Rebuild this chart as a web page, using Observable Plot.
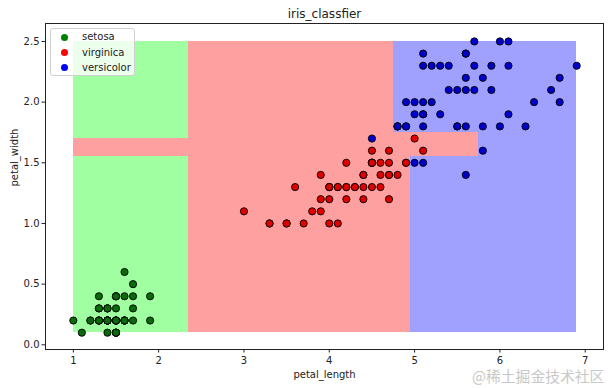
<!DOCTYPE html>
<html><head><meta charset="utf-8">
<script src="https://cdn.jsdelivr.net/npm/d3@7"></script>
<script src="https://cdn.jsdelivr.net/npm/@observablehq/plot@0.6"></script>
<style>
body{margin:0;background:#fff;}
#wrap{position:relative;width:613px;height:388px;font-family:"DejaVu Sans",sans-serif;color:#222;overflow:hidden}
#title{height:20px;text-align:center;font-size:12px;line-height:12px;padding-top:8px;box-sizing:border-box;padding-left:36px}
#legend{position:absolute;left:50px;top:28px;width:85px;height:48px;box-sizing:border-box;background:rgba(255,255,255,0.8);border:1px solid #d0d0d0;border-radius:3px;font-size:10px}
.li{position:absolute;left:0;height:14px;line-height:14px}
.li span.d{position:absolute;left:10px;top:3.5px;width:7px;height:7px;border-radius:50%}
.li span.t{position:absolute;left:31px;white-space:nowrap}
#wm{position:absolute;left:472px;top:365px;font-family:"Noto Sans CJK SC",sans-serif;font-size:14.8px;color:#c8c8c8;white-space:nowrap}
</style></head>
<body><div id="wrap"><div id="title"></div><div id="chart"></div><div id="legend"></div><div id="wm"></div></div>
<script>
// ---- data ----
const titleText = "iris_classfier";
const xLabel = "petal_length";
const yLabel = "petal_width";
const classes = ["setosa", "virginica", "versicolor"];
const legendColors = ["#008000", "#ff0000", "#0000ff"];
const pointColors = ["#086a08", "#e00000", "#0000cc"];
const regionColors = ["#a0ffa0", "#ffa0a0", "#a0a0ff"];
const xTicks = [1, 2, 3, 4, 5, 6, 7];
const yTicks = [0.0, 0.5, 1.0, 1.5, 2.0, 2.5];
const watermark = "@稀土掘金技术社区";

// green class points
const setosaLength = [1.4,1.4,1.3,1.5,1.4,1.7,1.4,1.5,1.4,1.5,1.5,1.6,1.4,1.1,1.2,1.5,1.3,1.4,1.7,1.5,1.7,1.5,1.0,1.7,1.9,1.6,1.6,1.5,1.4,1.6,1.6,1.5,1.5,1.4,1.5,1.2,1.3,1.5,1.3,1.5,1.3,1.3,1.3,1.6,1.9,1.4,1.6,1.4,1.5,1.4];
const setosaWidth  = [0.2,0.2,0.2,0.2,0.2,0.4,0.3,0.2,0.2,0.1,0.2,0.2,0.1,0.1,0.2,0.4,0.4,0.3,0.3,0.3,0.2,0.4,0.2,0.5,0.2,0.2,0.4,0.2,0.2,0.2,0.2,0.4,0.1,0.2,0.1,0.2,0.2,0.1,0.2,0.2,0.3,0.3,0.2,0.6,0.4,0.3,0.2,0.2,0.2,0.2];
// red class points (legend "virginica")
const redLength = [4.7,4.5,4.9,4.0,4.6,4.5,4.7,3.3,4.6,3.9,3.5,4.2,4.0,4.7,3.6,4.4,4.5,4.1,4.5,3.9,4.8,4.0,4.9,4.7,4.3,4.4,4.8,5.0,4.5,3.5,3.8,3.7,3.9,5.1,4.5,4.5,4.7,4.4,4.1,4.0,4.4,4.6,4.0,3.3,4.2,4.2,4.2,4.3,3.0,4.1];
const redWidth  = [1.4,1.5,1.5,1.3,1.5,1.3,1.6,1.0,1.3,1.4,1.0,1.5,1.0,1.4,1.3,1.4,1.5,1.0,1.5,1.1,1.8,1.3,1.5,1.2,1.3,1.4,1.4,1.7,1.5,1.0,1.1,1.0,1.2,1.6,1.5,1.6,1.5,1.3,1.3,1.3,1.2,1.4,1.2,1.0,1.3,1.2,1.3,1.3,1.1,1.3];
// blue class points (legend "versicolor")
const blueLength = [6.0,5.1,5.9,5.6,5.8,6.6,4.5,6.3,5.8,6.1,5.1,5.3,5.5,5.0,5.1,5.3,5.5,6.7,6.9,5.0,5.7,4.9,6.7,4.9,5.7,6.0,4.8,4.9,5.6,5.8,6.1,6.4,5.6,5.1,5.6,6.1,5.6,5.5,4.8,5.4,5.6,5.1,5.1,5.9,5.7,5.2,5.0,5.2,5.4,5.1];
const blueWidth  = [2.5,1.9,2.1,1.8,2.2,2.1,1.7,1.8,1.8,2.5,2.0,1.9,2.1,2.0,2.4,2.3,1.8,2.2,2.3,1.5,2.3,2.0,2.0,1.8,2.1,1.8,1.8,1.8,2.1,1.6,1.9,2.0,2.2,1.5,1.4,2.3,2.4,1.8,1.8,2.1,2.4,2.3,1.9,2.3,2.5,2.3,1.9,2.0,2.3,1.8];

// decision regions (class index, x range, y range)
const regionClass = [0, 0, 1, 1, 1, 1, 2, 2, 2];
const regionX1 = [1.0, 1.0, 1.0, 2.35, 2.35, 4.75, 4.95, 4.75, 5.75];
const regionX2 = [2.35, 2.35, 2.35, 4.95, 4.75, 5.75, 6.9, 6.9, 6.9];
const regionY1 = [0.1, 1.70, 1.55, 0.1, 1.55, 1.55, 0.1, 1.75, 1.55];
const regionY2 = [1.55, 2.5, 1.70, 1.55, 2.5, 1.75, 1.55, 2.5, 1.75];

// ---- build tables ----
const regions = regionClass.map((c, i) => ({cls: classes[c], x1: regionX1[i], x2: regionX2[i], y1: regionY1[i], y2: regionY2[i]}));
const mk = (L, W, c) => L.map((v, i) => ({x: v, y: W[i], cls: c}));
const groups = [mk(setosaLength, setosaWidth, classes[0]), mk(redLength, redWidth, classes[1]), mk(blueLength, blueWidth, classes[2])];

document.getElementById("title").textContent = titleText;
document.getElementById("wm").textContent = watermark;

const regionFill = d3.scaleOrdinal(classes, regionColors);
const pointFill = d3.scaleOrdinal(classes, pointColors);

const chart = Plot.plot({
  width: 613,
  height: 368,
  marginLeft: 45,
  marginRight: 10,
  marginTop: 3,
  marginBottom: 39,
  style: {fontFamily: "DejaVu Sans, sans-serif", fontSize: "10px", color: "#222", background: "white"},
  x: {domain: [0.674, 7.214], ticks: xTicks, tickFormat: d3.format("d"), label: null},
  y: {domain: [-0.0387, 2.648], ticks: yTicks, tickFormat: d3.format(".1f"), label: null},
  marks: [
    Plot.rect(regions, {x1: "x1", x2: "x2", y1: "y1", y2: "y2", fill: d => regionFill(d.cls), shapeRendering: "crispEdges"}),
    ...groups.map(g => Plot.dot(g, {x: "x", y: "y", r: 3.6, fill: d => pointFill(d.cls), stroke: "black", strokeWidth: 0.9})),
    Plot.axisX({ticks: xTicks, tickSize: 3.5, tickPadding: 3.5, tickFormat: d3.format("d"), fontSize: 10}),
    Plot.axisY({ticks: yTicks, tickSize: 3.5, tickPadding: 2.5, tickFormat: d3.format(".1f"), fontSize: 10}),
    Plot.text([xLabel], {frameAnchor: "bottom", dy: 28, fontSize: 10, fill: "#222"}),
    Plot.text([yLabel], {frameAnchor: "left", dx: -31, rotate: -90, fontSize: 10, fill: "#222"}),
    Plot.frame({stroke: "#222", strokeWidth: 1})
  ]
});
document.getElementById("chart").appendChild(chart);

// legend
const leg = document.getElementById("legend");
const rowTops = [1, 16.5, 31.5];
classes.forEach((c, i) => {
  const r = document.createElement("div");
  r.className = "li";
  r.style.top = rowTops[i] + "px";
  r.innerHTML = `<span class="d" style="background:${legendColors[i]}"></span><span class="t"></span>`;
  r.querySelector(".t").textContent = c;
  leg.appendChild(r);
});
</script></body></html>
